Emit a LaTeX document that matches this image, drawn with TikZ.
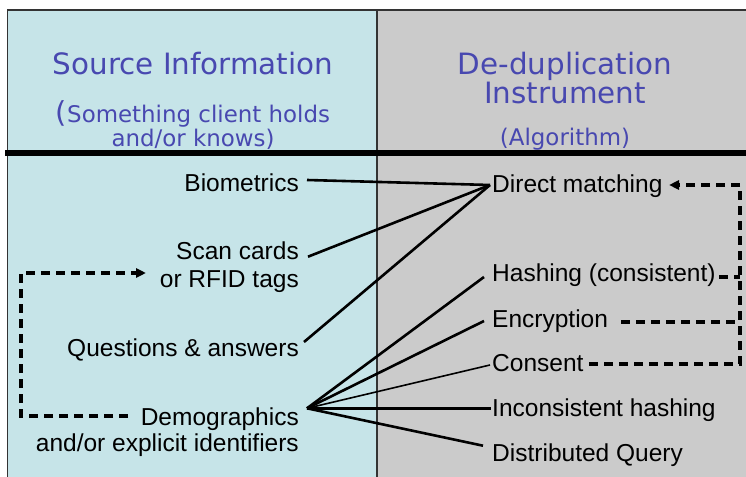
\documentclass[tikz,border=0pt]{standalone}
\usepackage{fontspec}
\setmainfont{Liberation Sans}
\newfontfamily\titlefont{DejaVu Sans}
\usetikzlibrary{arrows.meta}
\definecolor{leftbg}{RGB}{198,228,232}
\definecolor{rightbg}{RGB}{203,203,203}
\definecolor{titleblue}{RGB}{72,72,176}
\begin{document}
\begin{tikzpicture}[x=1bp,y=-1bp,
  frame/.style={draw=black!80,line width=1.2bp},
  bigtitle/.style={inner sep=0,anchor=base,text=titleblue,font=\titlefont\fontsize{29.5}{32}\selectfont},
  subtitle/.style={inner sep=0,anchor=base,text=titleblue,font=\titlefont\fontsize{23}{25}\selectfont},
  lefttext/.style={inner sep=0,anchor=base east,font=\fontsize{24.6}{27}\selectfont},
  righttext/.style={inner sep=0,anchor=base west,font=\fontsize{24.6}{27}\selectfont},
  conn/.style={line width=2.6bp},
  dashline/.style={line width=3.2bp,dash pattern=on 9bp off 6bp},
  tip/.style={-{Triangle[length=10bp,width=9bp]}}
]
\useasboundingbox (0,0) rectangle (746,477);
\fill[leftbg] (7.5,10) rectangle (377,477);
\fill[rightbg] (377,10) rectangle (746,477);
\draw[frame] (7.5,477) -- (7.5,10) -- (746,10);
\draw[frame] (377,10) -- (377,477);

% titles
\node[bigtitle] (srcT) at (193,75) {Source Information};
\node[subtitle] (srcS1) at (193,123) {{\fontsize{29}{29}\selectfont(}Something client holds};
\node[subtitle] (srcS2) at (193,146.5) {and/or knows)};
\node[bigtitle] (dedT1) at (565,75) {De-duplication};
\node[bigtitle] (dedT2) at (565,104) {Instrument};
\node[subtitle] (dedS) at (565,146) {(Algorithm)};

\draw[line width=6.5bp] (5,153) -- (746,153);

% left texts
\node[lefttext] (bio) at (299,191.5) {Biometrics};
\node[lefttext] (scan1) at (299,260) {Scan cards};
\node[lefttext] (scan2) at (299,287.7) {or RFID tags};
\node[lefttext] (qa) at (299,356) {Questions \& answers};
\node[lefttext] (dem1) at (299,425) {Demographics};
\node[lefttext] (dem2) at (299,451.7) {and/or explicit identifiers};

% right texts
\node[righttext] (dm) at (492,193) {Direct matching};
\node[righttext] (hash) at (492,282) {Hashing (consistent)};
\node[righttext] (enc) at (492,327.7) {Encryption};
\node[righttext] (con) at (492,371.7) {Consent};
\node[righttext] (inc) at (492,416.7) {Inconsistent hashing};
\node[righttext] (dq) at (492,461.7) {Distributed Query};

% attachment points
\coordinate (dmIn) at (490,185);
\coordinate (bioOut) at (307,180);
\coordinate (scanOut) at (308,256.7);
\coordinate (qaOut) at (304,342);
\coordinate (demHub) at (307,408.3);
\coordinate (hashIn) at (484,277);
\coordinate (encIn) at (484,321);
\coordinate (conIn) at (490,365);
\coordinate (incIn) at (491,408.3);
\coordinate (dqIn) at (483,445.7);

\draw[conn] (bioOut) -- (dmIn);
\draw[conn] (scanOut) -- (dmIn);
\draw[conn] (qaOut) -- (dmIn);
\draw[conn] (demHub) -- (hashIn);
\draw[conn] (demHub) -- (encIn);
\draw[line width=1.6bp] (demHub) -- (conIn);
\draw[line width=3.2bp] (demHub) -- (incIn);
\draw[conn] (demHub) -- (dqIn);

% dashed loops
\coordinate (rightX) at (740,0);
\coordinate (leftX) at (21,0);
\coordinate (conOut) at (589,364);
\coordinate (encOut) at (621,322);
\coordinate (hashOut) at (719,277);
\coordinate (dmArrow) at (669,185);
\coordinate (demOut) at (128,416);
\coordinate (scanArrow) at (146,273);

\draw[dashline,tip] (conOut) -- (conOut -| rightX) |- (dmArrow);
\draw[dashline] (encOut) -- (encOut -| rightX);
\draw[dashline] (hashOut) -- (hashOut -| rightX);
\draw[dashline,tip] (demOut) -- (demOut -| leftX) |- (scanArrow);
\end{tikzpicture}
\end{document}
